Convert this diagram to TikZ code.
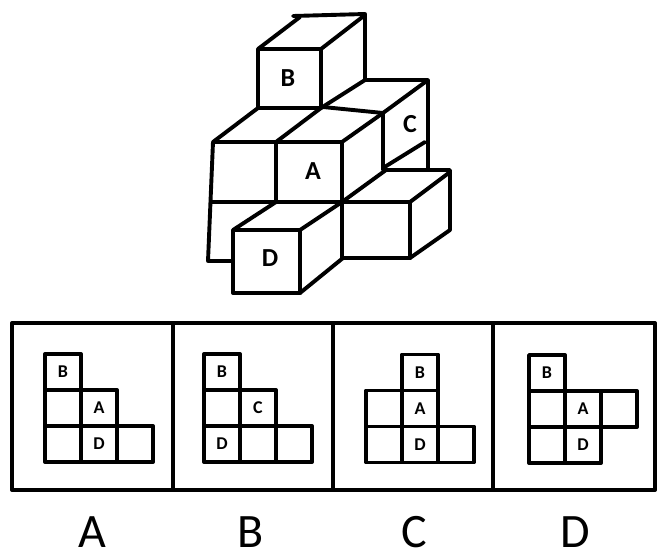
\documentclass[tikz,border=0pt]{standalone}
\usepackage{fontspec}
\setmainfont{Carlito}
\tikzset{
    edge/.style={line width=3.9pt,line cap=round,line join=round},
    facelabel/.style={font=\fontsize{26}{26}\selectfont\bfseries,inner sep=0pt},
    netcell/.style={draw,edge,minimum size=36pt,inner sep=0pt,font=\fontsize{18}{18}\selectfont\bfseries},
    choice/.style={font=\fontsize{48}{48}\selectfont,inner sep=0pt}
}
\begin{document}
\begin{tikzpicture}[x=1pt,y=-1pt]
        \useasboundingbox (0,0) rectangle (663,555);
        %% cube B
        \draw[edge] (258,49) rectangle (321,108);
        \draw[edge] (258,49) -- (300,17);
        \draw[edge] (293,16) -- (365,14) -- (365,80);
        \draw[edge] (321,49) -- (365,15);
        %% cube C
        \draw[edge] (321,108) -- (365,80) -- (428,80) -- (428,170);
        \draw[edge] (323,107) -- (383,113) -- (383,170);
        \draw[edge] (383,113) -- (428,80);
        \draw[edge] (383,168) -- (425,142);
        %% middle row
        \draw[edge] (258,108) -- (213,142) -- (342,142) -- (383,113);
        \draw[edge] (321,108) -- (276,142) -- (276,202);
        \draw[edge] (213,142) -- (208,261) -- (233,261);
        \draw[edge] (342,142) -- (342,258);
        \draw[edge] (212,202) -- (410,202);
        %% lower right cube
        \draw[edge] (342,202) -- (386,170) -- (450,170) -- (450,230) -- (410,258) -- (343,258);
        \draw[edge] (410,202) -- (410,258);
        \draw[edge] (410,202) -- (450,172);
        %% cube D
        \draw[edge,fill=white] (233,230) rectangle (300,293);
        \draw[edge] (233,230) -- (276,202);
        \draw[edge] (300,230) -- (342,202);
        \draw[edge] (300,293) -- (343,258);
        %% cube labels
        \foreach \x/\y/\t in {288/78/B,313/171/A,410/124/C,270/258/D}
            \node[facelabel] (face\t) at (\x,\y) {\t};
        %% panels
        \draw[edge] (12,323) rectangle (655,490);
        \foreach \x in {173,333,493}
            \draw[edge] (\x,323) -- (\x,490);
        %% nets
        \foreach \x/\y/\t in {0/0/B,0/1/,1/1/A,0/2/,1/2/D,2/2/}
            \node[netcell] (na\x\y) at ({63+36*\x},{372+36*\y}) {\t};
        \foreach \x/\y/\t in {0/0/B,0/1/,1/1/C,0/2/D,1/2/,2/2/}
            \node[netcell] (nb\x\y) at ({222+36*\x},{372+36*\y}) {\t};
        \foreach \x/\y/\t in {1/0/B,0/1/,1/1/A,0/2/,1/2/D,2/2/}
            \node[netcell] (nc\x\y) at ({384+36*\x},{372.5+36*\y}) {\t};
        \foreach \x/\y/\t in {0/0/B,0/1/,1/1/A,2/1/,0/2/,1/2/D}
            \node[netcell] (nd\x\y) at ({547+36*\x},{373+36*\y}) {\t};
        %% choices
        \foreach \x/\t in {92/A,251/B,414/C,575/D}
            \node[choice] (choice\t) at (\x,532) {\t};
    \end{tikzpicture}
\end{document}
